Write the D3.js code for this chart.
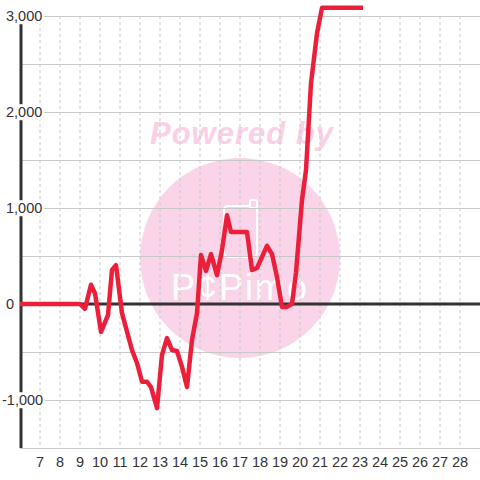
<!DOCTYPE html>
<html>
<head>
<meta charset="utf-8">
<script src="https://cdn.jsdelivr.net/npm/d3@7"></script>
<style>
  html, body { margin: 0; padding: 0; background: #fff; }
  #chart { width: 480px; height: 480px; }
  text { font-family: "Liberation Sans", Arial, sans-serif; }
</style>
</head>
<body>
<div id="chart"></div>
<script>
// Values: day of month vs. balance
const days = [6, 9.0, 9.25, 9.55, 9.75, 10.05, 10.4, 10.6, 10.8, 11.1, 11.6, 11.85, 12.1, 12.35, 12.55,
  12.85, 13.1, 13.35, 13.6, 13.85, 14.1, 14.35, 14.6, 14.85, 15.05, 15.3, 15.55, 15.85, 16.1, 16.35,
  16.55, 17.35, 17.6, 17.85, 18.35, 18.6, 18.85, 19.1, 19.35, 19.6, 19.8, 20.1, 20.3, 20.55, 20.85,
  21.1, 23.15];
const values = [0, 0, -50, 200, 110, -290, -115, 355, 405, -95, -480, -615, -810, -810, -865,
  -1085, -530, -355, -480, -490, -655, -865, -375, -95, 510, 345, 520, 300, 560, 925,
  750, 750, 355, 375, 605, 520, 280, -30, -30, 0, 325, 1085, 1395, 2300, 2820,
  3085, 3085];
const xTicks = d3.range(7, 29);
const yTicks = [3000, 2000, 1000, 0, -1000];
const yGrid = d3.range(-1500, 3001, 500);

const width = 480, height = 480;
const margin = {top: 16, right: 0, bottom: 32, left: 20};

const svg = d3.select("#chart").append("svg")
    .attr("width", width)
    .attr("height", height);

const x = d3.scaleLinear().domain([6, 29]).range([margin.left, width - margin.right]);
const y = d3.scaleLinear().domain([-1500, 3166.7]).range([height - margin.bottom, 0]);

// watermark behind everything
const pink = "#fad4e9";
const wm = svg.append("g").attr("class", "watermark");
wm.append("circle")
    .attr("cx", 240).attr("cy", 258).attr("r", 100)
    .attr("fill", pink);
wm.append("text")
    .attr("x", 242).attr("y", 144)
    .attr("text-anchor", "middle")
    .attr("font-size", 31)
    .attr("font-weight", "bold")
    .attr("font-style", "italic")
    .attr("letter-spacing", 1)
    .attr("fill", "#fbd0e7")
    .text("Powered by");
// small logo icon
wm.append("rect")
    .attr("x", 224).attr("y", 206).attr("width", 33).attr("height", 51).attr("rx", 4)
    .attr("fill", "none").attr("stroke", "#fff").attr("stroke-width", 2);
wm.append("rect")
    .attr("x", 250).attr("y", 200).attr("width", 7).attr("height", 8).attr("rx", 2)
    .attr("fill", pink).attr("stroke", "#fff").attr("stroke-width", 2);
wm.append("text")
    .attr("x", 240).attr("y", 300)
    .attr("text-anchor", "middle")
    .attr("font-family", "DejaVu Sans Mono, monospace")
    .attr("font-size", 36)
    .attr("letter-spacing", 2)
    .attr("fill", "#fff")
    .text("P¢Pimo");

// grid
const plotTop = margin.top, plotBottom = height - margin.bottom;
svg.append("g").selectAll("line.vgrid")
    .data(xTicks)
    .enter().append("line")
    .attr("x1", d => x(d)).attr("x2", d => x(d))
    .attr("y1", plotTop).attr("y2", plotBottom)
    .attr("stroke", "#c8c8c8").attr("stroke-width", 1)
    .attr("stroke-dasharray", "3,3");

svg.append("g").selectAll("line.hgrid")
    .data(yGrid)
    .enter().append("line")
    .attr("x1", margin.left).attr("x2", width)
    .attr("y1", d => Math.round(y(d)) + 0.5).attr("y2", d => Math.round(y(d)) + 0.5)
    .attr("stroke", "#c8c8c8").attr("stroke-width", 1);

// y axis line and zero line
svg.append("line")
    .attr("x1", 21).attr("x2", 21)
    .attr("y1", plotTop).attr("y2", plotBottom)
    .attr("stroke", "#333").attr("stroke-width", 3);
svg.append("line")
    .attr("x1", 21).attr("x2", width)
    .attr("y1", y(0)).attr("y2", y(0))
    .attr("stroke", "#333").attr("stroke-width", 3);

// the series
const line = d3.line().x((d, i) => x(days[i])).y(d => y(d));
svg.append("path")
    .datum(values)
    .attr("fill", "none")
    .attr("stroke", "#ec1f3b")
    .attr("stroke-width", 4.5)
    .attr("stroke-linejoin", "round")
    .attr("d", line);

// y labels with white background boxes
const yLab = svg.append("g").selectAll("g")
    .data(yTicks)
    .enter().append("g");
yLab.each(function(d) {
    const g = d3.select(this);
    const t = g.append("text")
        .attr("x", d < 0 ? 2 : 6)
        .attr("y", y(d))
        .attr("dy", "0.36em")
        .attr("font-size", 14.5)
        .attr("fill", "#333")
        .text(d3.format(",")(d).replace("−", "-"));
    const b = t.node().getBBox();
    g.insert("rect", "text")
        .attr("x", b.x - 1).attr("y", b.y)
        .attr("width", b.width + 3).attr("height", b.height)
        .attr("fill", "#fff");
});

// x labels
svg.append("g").selectAll("text")
    .data(xTicks)
    .enter().append("text")
    .attr("x", d => x(d))
    .attr("y", 467)
    .attr("text-anchor", "middle")
    .attr("font-size", 14.5)
    .attr("fill", "#333")
    .text(d => d);
</script>
</body>
</html>
